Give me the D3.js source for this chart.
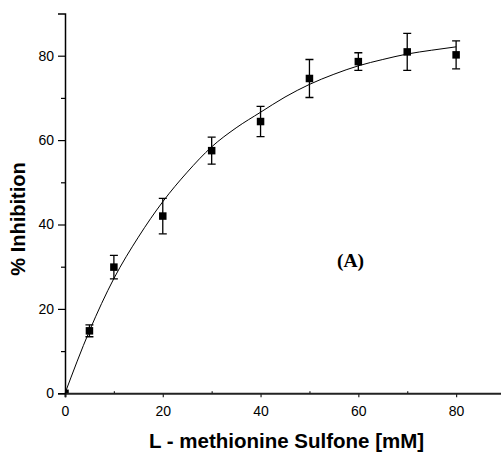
<!DOCTYPE html>
<html>
<head>
<meta charset="utf-8">
<script src="https://cdn.jsdelivr.net/npm/d3@7"></script>
<style>
  body { margin: 0; background: #fff; }
  svg { display: block; }
</style>
</head>
<body>
<div id="plot_area"></div>
<script>
// measured points (mean and error)
var concentration = [0, 5, 10, 20, 30, 40, 50, 60, 70, 80];
var inhibition    = [0, 14.8, 29.9, 42.0, 57.5, 64.4, 74.6, 78.6, 80.9, 80.2];
var errorBar      = [0, 1.4, 2.8, 4.2, 3.2, 3.6, 4.5, 2.1, 4.4, 3.3];

// fitted curve
var fitX = [0, 5, 10, 15, 20, 25, 30, 35, 40, 45, 50, 55, 60, 65, 70, 75, 80];
var fitY = [0, 14.8, 27.2, 37.0, 45.4, 52.4, 58.4, 62.9, 66.6, 70.2, 73.2, 75.6, 77.6, 79.1, 80.4, 81.3, 82.1];

var xMajor = [0, 20, 40, 60, 80];
var xMinor = [10, 30, 50, 70];
var yMajor = [0, 20, 40, 60, 80];
var yMinor = [10, 30, 50, 70];

var W = 501, H = 453;

var Svg = d3.select('#plot_area')
  .append("svg")
    .attr("width", W)
    .attr("height", H)

var x = d3.scaleLinear()
  .domain([0, 90])
  .range([65, 505])

var y = d3.scaleLinear()
  .domain([0, 90])
  .range([393.3, 13.5])

// clip for the marks
Svg.append("clipPath").attr("id", "plotclip")
  .append("rect")
    .attr("x", x(0)).attr("y", y(90))
    .attr("width", x(90) - x(0)).attr("height", y(0) - y(90))

var plot = Svg.append("g").attr("clip-path", "url(#plotclip)")

// fitted line
var line = d3.line()
  .x(function (d, i) { return x(fitX[i]); })
  .y(function (d) { return y(d); })
  .curve(d3.curveMonotoneX)

plot.append("path")
  .datum(fitY)
  .attr("d", line)
  .attr("fill", "none")
  .attr("stroke", "#000")
  .attr("stroke-width", 1)

// error bars
var pts = concentration.map(function (c, i) { return {x: c, y: inhibition[i], e: errorBar[i]}; })

var eb = plot.selectAll(".eb")
  .data(pts.filter(function (d) { return d.e > 0; }))
  .enter()
  .append("g")
    .attr("stroke", "#000")
    .attr("stroke-width", 1.3)

eb.append("line")
  .attr("x1", function (d) { return x(d.x); })
  .attr("x2", function (d) { return x(d.x); })
  .attr("y1", function (d) { return y(d.y + d.e); })
  .attr("y2", function (d) { return y(d.y - d.e); })
eb.append("line")
  .attr("x1", function (d) { return x(d.x) - 4; })
  .attr("x2", function (d) { return x(d.x) + 4; })
  .attr("y1", function (d) { return y(d.y + d.e); })
  .attr("y2", function (d) { return y(d.y + d.e); })
eb.append("line")
  .attr("x1", function (d) { return x(d.x) - 4; })
  .attr("x2", function (d) { return x(d.x) + 4; })
  .attr("y1", function (d) { return y(d.y - d.e); })
  .attr("y2", function (d) { return y(d.y - d.e); })

// square markers
var s = 7.5
plot.selectAll(".dot")
  .data(pts)
  .enter()
  .append("rect")
    .attr("x", function (d) { return x(d.x) - s / 2; })
    .attr("y", function (d) { return y(d.y) - s / 2; })
    .attr("width", s)
    .attr("height", s)
    .attr("fill", "#000")

// axes
var fontF = "'Liberation Sans', Arial, Helvetica, sans-serif"

var xAxis = Svg.append("g")
  .attr("transform", "translate(0," + y(0) + ")")
  .call(d3.axisBottom(x).tickValues(xMajor).tickSize(4).tickPadding(9))
xAxis.select(".domain").attr("stroke", "#222").attr("stroke-width", 2)
xAxis.selectAll(".tick line").attr("stroke", "#222").attr("stroke-width", 1.2)

Svg.append("g")
  .attr("transform", "translate(0," + y(0) + ")")
  .call(d3.axisTop(x).tickValues(xMinor).tickSize(2).tickFormat(""))
  .call(function (g) { g.select(".domain").remove(); })
  .selectAll(".tick line").attr("stroke", "#222").attr("stroke-width", 1.2)

var yAxis = Svg.append("g")
  .attr("transform", "translate(" + x(0) + ",0)")
  .call(d3.axisLeft(y).tickValues(yMajor).tickSize(7).tickPadding(4))
yAxis.select(".domain").attr("stroke", "#000").attr("stroke-width", 1.5)
yAxis.selectAll(".tick line").attr("stroke", "#000").attr("stroke-width", 1.2)

Svg.append("g")
  .attr("transform", "translate(" + x(0) + ",0)")
  .call(d3.axisLeft(y).tickValues(yMinor).tickSize(4).tickFormat(""))
  .call(function (g) { g.select(".domain").remove(); })
  .selectAll(".tick line").attr("stroke", "#000").attr("stroke-width", 1.2)

Svg.selectAll(".tick text")
  .style("font-family", fontF)
  .style("font-size", "14px")
  .attr("fill", "#000")

// labels
Svg.append("text")
  .attr("x", 286.5)
  .attr("y", 448)
  .attr("text-anchor", "middle")
  .style("font-family", fontF)
  .style("font-weight", "bold")
  .style("font-size", "20.5px")
  .text("L - methionine Sulfone [mM]")

Svg.append("text")
  .attr("transform", "translate(25,219) rotate(-90)")
  .attr("text-anchor", "middle")
  .style("font-family", fontF)
  .style("font-weight", "bold")
  .style("font-size", "20px")
  .text("% Inhibition")

Svg.append("text")
  .attr("x", 350.5)
  .attr("y", 267)
  .attr("text-anchor", "middle")
  .style("font-family", "'Liberation Serif', 'Times New Roman', serif")
  .style("font-weight", "bold")
  .style("font-size", "19.5px")
  .text("(A)")
</script>
</body>
</html>
